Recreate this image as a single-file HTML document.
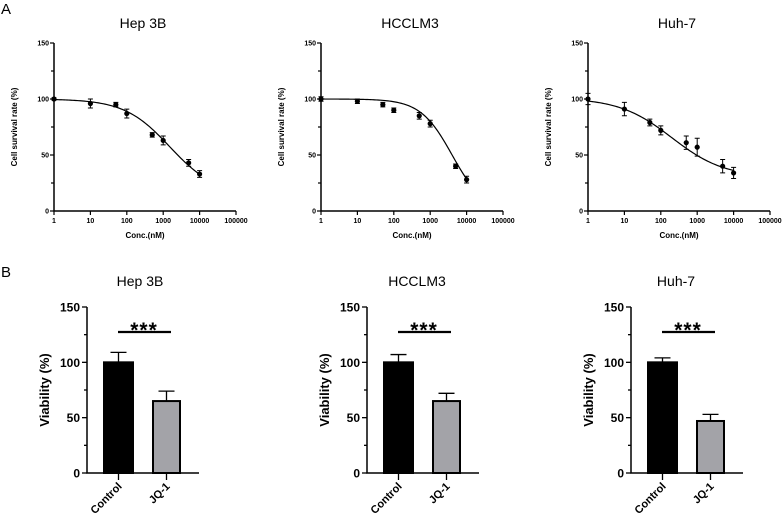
<!DOCTYPE html>
<html><head><meta charset="utf-8"><style>
html,body{margin:0;padding:0;background:#fff}
svg{display:block;font-family:"Liberation Sans",Arial,sans-serif}
</style></head><body>
<svg id="fig" width="782" height="522" viewBox="0 0 782 522">
<text x="1" y="14" font-size="15">A</text>
<text x="1" y="277" font-size="15">B</text>
</svg>
<script>
const curveTitles=["Hep 3B","HCCLM3","Huh-7"];
const concentrations=[1,10,50,100,500,1000,5000,10000];
const survivalHep3B=[100,96,95,87,68,63,43,33];
const errHep3B=[1,4,2,4,2,4,3,3];
const survivalHCCLM3=[100,98,95,90,85,78,40,28];
const errHCCLM3=[2,2,2,2,3,3,2,3];
const survivalHuh7=[100,91,79,72,61,57,40,34];
const errHuh7=[5,6,3,4,6,8,6,5];
const fitTop=[100,100,101];
const fitBottom=[15,0,30];
const fitIC50=[1500,4000,200];
const fitHill=[0.7,1.0,0.6];
const xTickLabels=["1","10","100","1000","10000","100000"];
const yTickLabelsA=[0,50,100,150];
const barCategories=["Control","JQ-1"];
const controlMeans=[100,100,100];
const controlErr=[9,7,4];
const jq1Means=[65,65,47];
const jq1Err=[9,7,6];
const yTickLabelsB=[0,50,100,150];

const NS="http://www.w3.org/2000/svg";
const svg=document.getElementById('fig');
function mk(tag,attrs,parent,txt){const e=document.createElementNS(NS,tag);for(const k in attrs)e.setAttribute(k,attrs[k]);if(txt!==undefined)e.textContent=txt;(parent||svg).appendChild(e);return e;}

const survAll=[survivalHep3B,survivalHCCLM3,survivalHuh7];
const errAll=[errHep3B,errHCCLM3,errHuh7];
const axA=[54,321,588];
for(let p=0;p<3;p++){
  const g=mk('g',{});
  
  
  const x0=axA[p], x1=x0+182, yTop=43, yBot=211;
  const sx=c=>x0+Math.log10(c)*(x1-x0)/5;
  const sy=v=>yBot-v*(yBot-yTop)/150;
  const t=mk('text',{x:(x0+x1)/2-2,y:28,'font-size':14,'text-anchor':'middle'},g,curveTitles[p]);
  
  
  mk('path',{d:`M${x0},${yTop}V${yBot}H${x1}`,stroke:'#000','stroke-width':1.5,fill:'none'},g);
  for(let v=0;v<=150;v+=25){
    const major=v%50===0;
    mk('line',{x1:x0-(major?4:3),x2:x0,y1:sy(v),y2:sy(v),stroke:'#000','stroke-width':1.2},g);
  }
  yTickLabelsA.forEach(v=>{
    const l=mk('text',{x:x0-5,y:sy(v)+2.5,'font-size':7,'font-weight':'bold','text-anchor':'end'},g,v);
    
    
  });
  xTickLabels.forEach((s,i)=>{
    const xx=sx(Math.pow(10,i));
    mk('line',{x1:xx,x2:xx,y1:yBot,y2:yBot+4,stroke:'#000','stroke-width':1.2},g);
    const l=mk('text',{x:xx,y:yBot+12,'font-size':7,'font-weight':'bold','text-anchor':'middle'},g,s);
    
    
  });
  const xl=mk('text',{x:(x0+x1)/2,y:yBot+27,'font-size':8,'font-weight':'bold','text-anchor':'middle'},g,'Conc.(nM)');
  
  
  const yl=mk('text',{x:0,y:0,'font-size':8,'font-weight':'bold','text-anchor':'middle',transform:`translate(${x0-37},${(yTop+yBot)/2}) rotate(-90)`},g,'Cell survival rate (%)');
  
  
  let d='';
  for(let i=0;i<=100;i++){
    const lx=i*4/100, c=Math.pow(10,lx);
    const v=fitBottom[p]+(fitTop[p]-fitBottom[p])/(1+Math.pow(c/fitIC50[p],fitHill[p]));
    d+=(i?'L':'M')+sx(c).toFixed(2)+','+sy(v).toFixed(2);
  }
  const cv=mk('path',{d:d,stroke:'#000','stroke-width':1.2,fill:'none'},g);
  
  
  concentrations.forEach((c,i)=>{
    const xx=sx(c), v=survAll[p][i], e=errAll[p][i];
    const eb=mk('path',{d:`M${xx},${sy(v+e)}V${sy(v-e)}M${xx-2.5},${sy(v+e)}h5M${xx-2.5},${sy(v-e)}h5`,stroke:'#000','stroke-width':1,fill:'none'},g);
    
    
    const pt=mk('circle',{cx:xx,cy:sy(v),r:2.6,fill:'#000'},g);
    
    
  });
}

const axB=[87,367,631];
const titleXB=[140,417,676];
for(let p=0;p<3;p++){
  const g=mk('g',{});
  
  
  const x0=axB[p], x1=x0+112, yTop=307, yBot=473;
  const sy=v=>yBot-v*(yBot-yTop)/150;
  const t=mk('text',{x:titleXB[p],y:286,'font-size':14,'text-anchor':'middle'},g,curveTitles[p]);
  
  
  for(let v=0;v<=150;v+=25){
    const major=v%50===0;
    mk('line',{x1:x0-(major?5:3),x2:x0,y1:sy(v),y2:sy(v),stroke:'#000','stroke-width':1.3},g);
  }
  yTickLabelsB.forEach(v=>{
    const l=mk('text',{x:x0-7,y:sy(v)+4.5,'font-size':12,'font-weight':'bold','text-anchor':'end'},g,v);
    
    
  });
  const yl=mk('text',{x:0,y:0,'font-size':13,'font-weight':'bold','text-anchor':'middle',transform:`translate(${x0-38},${(yTop+yBot)/2}) rotate(-90)`},g,'Viability (%)');
  
  
  const means=[controlMeans[p],jq1Means[p]], errs=[controlErr[p],jq1Err[p]];
  const bx=[x0+16,x0+65], bw=[31,29], fills=['#000','#a3a3a8'];
  barCategories.forEach((cat,i)=>{
    const cx=bx[i]+bw[i]/2;
    const eb=mk('path',{d:`M${cx},${sy(means[i])}V${sy(means[i]+errs[i])}M${cx-8},${sy(means[i]+errs[i])}h16`,stroke:'#000','stroke-width':1.3,fill:'none'},g);
    
    
    const r=mk('rect',{x:bx[i]+1,y:sy(means[i]),width:bw[i]-2,height:yBot-sy(means[i]),fill:fills[i],stroke:'#000','stroke-width':2},g);
    
    
    mk('line',{x1:cx,x2:cx,y1:yBot,y2:yBot+7,stroke:'#000','stroke-width':1.3},g);
    const l=mk('text',{x:0,y:0,'font-size':11,'font-weight':'bold','text-anchor':'end',transform:`translate(${cx+4},${yBot+14}) rotate(-45)`},g,cat);
    
    
  });
  mk('path',{d:`M${x0},${yTop}V${yBot}H${x1}`,stroke:'#000','stroke-width':1.5,fill:'none'},g);
  const sl=mk('line',{x1:x0+31,x2:x0+84,y1:332,y2:332,stroke:'#000','stroke-width':2.2},g);
  
  
  const st=mk('text',{x:x0+57,y:337,'font-size':21,'font-weight':'bold','text-anchor':'middle','letter-spacing':'1'},g,'***');
  
  
}
</script>
</body></html>
